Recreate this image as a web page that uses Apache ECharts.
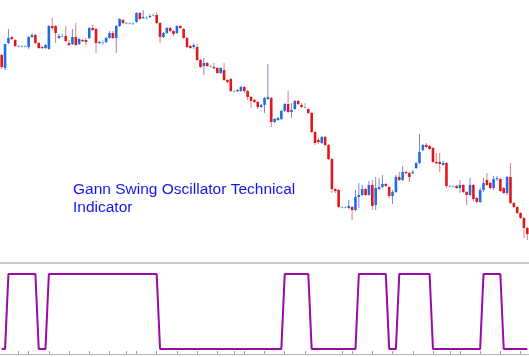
<!DOCTYPE html>
<html><head><meta charset="utf-8">
<script src="https://cdn.jsdelivr.net/npm/echarts@6/dist/echarts.min.js"></script>
<style>html,body{margin:0;padding:0;background:#fff}#c{width:529px;height:357px}</style>
</head><body><div id="c"></div>
<script>
const openV  = [195,182,207,213,210,204,204,204,203,213,215,207,203,202,201,224,224,212,214,214,207,206,213,206,210,210,212,222,221,207,208,208,212,217,212,224,230,227,227,227,228,237,232,232,233,235,235,227,213,217,222,219,217,224,221,212,204,203,203,190,184,187,184,183,182,177,180,170,171,159,159,159,163,159,153,150,148,143,145,151,152,128,130,131,139,146,138,141,149,145,143,141,137,118,110,107,113,105,91,61,60,43,43,42,43,40,53,55,61,55,65,45,61,63,66,63,54,58,73,70,78,77,77,82,87,100,105,104,102,88,88,85,87,64,64,64,62,65,58,55,65,52,48,60,70,67,62,71,71,62,57,73,47,43,37,32,22];
const closeV = [183,206,212,211,204,204,204,204,213,215,207,202,202,205,224,222,217,214,214,209,205,213,205,211,209,208,222,220,207,208,208,212,217,212,224,231,227,227,227,227,237,231,233,232,234,235,227,213,217,222,219,216,224,222,212,203,202,205,190,183,187,184,184,182,177,182,170,168,159,159,160,163,159,153,149,148,143,145,152,153,128,131,132,139,146,138,140,149,146,143,143,137,118,107,108,113,105,91,61,59,43,43,43,44,40,53,55,61,55,65,44,62,63,66,64,54,58,73,70,78,77,73,78,87,98,105,103,101,88,87,86,87,64,64,64,62,65,58,55,65,51,48,60,67,65,62,71,72,59,57,73,47,43,37,32,22,16];
const lowV   = [181,180,206,210,203,203,203,203,201,212,206,201,201,201,200,220,207,211,213,208,204,205,204,205,208,205,211,219,197,206,205,207,211,211,197,223,226,226,226,225,227,230,231,231,232,234,226,207,212,216,218,214,216,221,211,202,201,201,189,182,175,183,183,181,176,176,169,167,158,158,158,158,157,150,142,147,141,142,137,150,123,127,129,130,138,137,132,140,145,142,142,136,117,105,106,106,104,90,57,57,42,42,42,41,30,39,42,54,54,54,40,40,60,62,63,52,46,57,69,69,76,68,76,81,86,99,102,100,87,86,78,84,62,63,63,61,57,57,45,54,49,47,47,58,64,61,60,69,58,56,55,46,42,36,31,12,10];
const highV  = [196,206,221,214,211,205,205,205,214,217,216,208,204,206,225,232,225,216,217,224,210,221,227,212,211,212,223,225,222,209,210,213,219,219,225,232,231,228,228,228,238,238,240,234,236,237,238,228,218,223,223,220,225,225,222,213,205,207,206,191,192,188,185,187,183,183,187,171,172,160,161,164,164,160,154,151,149,146,153,186,153,132,133,140,147,159,147,150,150,147,147,142,138,119,112,114,114,106,92,62,61,44,44,50,44,60,67,65,62,69,70,73,72,75,67,64,60,75,78,84,79,78,80,88,116,106,107,105,103,97,97,89,88,65,65,65,70,66,59,72,66,53,62,72,77,68,74,74,72,63,74,87,48,44,38,33,23];
const oscV   = [0,0,1,1,1,1,1,1,1,1,1,0,0,0,1,1,1,1,1,1,1,1,1,1,1,1,1,1,1,1,1,1,1,1,1,1,1,1,1,1,1,1,1,1,1,1,1,0,0,0,0,0,0,0,0,0,0,0,0,0,0,0,0,0,0,0,0,0,0,0,0,0,0,0,0,0,0,0,0,0,0,0,0,0,1,1,1,1,1,1,1,1,0,0,0,0,0,0,0,0,0,0,0,0,0,0,1,1,1,1,1,1,1,1,1,0,0,0,1,1,1,1,1,1,1,1,1,1,0,0,0,0,0,0,0,0,0,0,0,0,0,0,0,1,1,1,1,1,1,0,0,0,0,0,0,0,0];
const tickIdx = [5,8,14,20,26,32,37,40,46,52,58,64,69,72,78,84,90,101,104,110,116,122,128,133,136,142,148,154];
const titleLines = ['Gann Swing Oscillator Technical', 'Indicator'];

const cats = openV.map((_, i) => String(i));
const candleData = openV.map((o, i) => [i, o, closeV[i], lowV[i], highV[i]]);
const tickSet = new Set(tickIdx);

const RED = '#e3161b', RED_W = '#e27c80';
const BLUE = '#1f6de6', BLUE_W = '#7d86d6';
const DOJI = '#86b6cc';

function renderCandle(params, api) {
  const i = api.value(0);
  const o = api.value(1), c = api.value(2), l = api.value(3), h = api.value(4);
  const pO = api.coord([i, o]), pC = api.coord([i, c]);
  const pH = api.coord([i, h]), pL = api.coord([i, l]);
  const x = pO[0];
  const w = 2.6;
  const body = c > o ? BLUE : (c < o ? RED : DOJI);
  const wick = c > o ? BLUE_W : (c < o ? RED_W : DOJI);
  const top = Math.min(pO[1], pC[1]);
  const hgt = Math.max(Math.abs(pO[1] - pC[1]), 1.2);
  return {
    type: 'group',
    children: [
      { type: 'line', shape: { x1: x, y1: pH[1], x2: x, y2: pL[1] }, style: { stroke: wick, lineWidth: 1 } },
      { type: 'rect', shape: { x: x - w / 2, y: top, width: w, height: hgt }, style: { fill: body } }
    ]
  };
}

const chart = echarts.init(document.getElementById('c'), null, { renderer: 'canvas' });
chart.setOption({
  animation: false,
  backgroundColor: '#ffffff',
  grid: [
    { left: 0, right: 0, top: 0, height: 263 },
    { left: 0, right: 0, top: 274, height: 80 }
  ],
  xAxis: [
    { type: 'category', gridIndex: 0, data: cats, boundaryGap: true,
      axisLine: { show: true, onZero: false, lineStyle: { color: '#c8c8c8', width: 2 } },
      axisTick: { show: false }, axisLabel: { show: false }, splitLine: { show: false } },
    { type: 'category', gridIndex: 1, data: cats, boundaryGap: true,
      axisLine: { show: true, onZero: false, lineStyle: { color: '#b4b4b4', width: 1 } },
      axisTick: { show: true, inside: true, length: 3, alignWithLabel: true,
        interval: (idx) => tickSet.has(idx), lineStyle: { color: '#a0a0a0' } },
      axisLabel: { show: false }, splitLine: { show: false } }
  ],
  yAxis: [
    { type: 'value', gridIndex: 0, min: -13, max: 250, show: false, splitLine: { show: false } },
    { type: 'value', gridIndex: 1, min: -1/15, max: 1, show: false, splitLine: { show: false } }
  ],
  series: [
    { type: 'custom', xAxisIndex: 0, yAxisIndex: 0, renderItem: renderCandle,
      data: candleData, encode: { x: 0, y: [1, 2, 3, 4] }, clip: false },
    { type: 'line', xAxisIndex: 1, yAxisIndex: 1, data: oscV, symbol: 'none',
      lineStyle: { color: '#9a0aa8', width: 2 } }
  ],
  graphic: [
    { type: 'text', left: 73, top: 181,
      style: { text: titleLines.join('\n'), font: '15.5px "Liberation Sans", Arial, sans-serif',
        fill: '#1414f0', lineHeight: 18 } }
  ]
});
</script>
</body></html>
